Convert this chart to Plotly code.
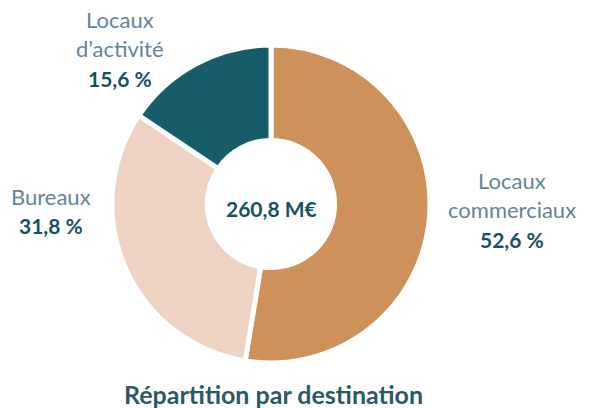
import plotly.graph_objects as go

categories = ["Locaux commerciaux", "Bureaux", "Locaux d'activité"]
values = [52.6, 31.8, 15.6]
colors = ["#CD9159", "#EED2C2", "#165D69"]
pct_labels = ["52,6 %", "31,8 %", "15,6 %"]
name_lines = [["Locaux", "commerciaux"], ["Bureaux"], ["Locaux", "d\u2019activité"]]
total_label = "260,8 M€"
title_text = "Répartition par destination"

W, H = 590, 408
cx, cy, r = 271, 204, 159

fig = go.Figure(go.Pie(
    labels=categories,
    values=values,
    hole=0.40,
    sort=False,
    direction="clockwise",
    rotation=0,
    marker=dict(colors=colors, line=dict(color="white", width=5)),
    textinfo="none",
    hoverinfo="label+percent",
    showlegend=False,
    domain=dict(x=[(cx - r) / W, (cx + r) / W], y=[(H - (cy + r)) / H, (H - (cy - r)) / H]),
))

name_color = "#62859A"
pct_color = "#17535F"
font_reg = "Lato"

# label anchor positions (px): center x, baseline of first line
label_pos = [(512, 187), (51, 203), (120, 26)]
line_gap = 29.5

annotations = []
for (x, yb), names, pct in zip(label_pos, name_lines, pct_labels):
    lines = [(n, False) for n in names] + [(pct, True)]
    for i, (txt, bold) in enumerate(lines):
        y = yb + i * line_gap - 7
        annotations.append(dict(
            x=x / W, y=1 - y / H, xref="paper", yref="paper",
            text=f"<b>{txt}</b>" if bold else txt,
            showarrow=False, xanchor="center", yanchor="middle",
            font=dict(family=font_reg, size=21 if bold else 22, color=pct_color if bold else name_color),
        ))

annotations.append(dict(
    x=cx / W, y=1 - 208 / H, xref="paper", yref="paper",
    text=f"<b>{total_label}</b>", showarrow=False, xanchor="center", yanchor="middle",
    font=dict(family=font_reg, size=21, color=pct_color),
))
annotations.append(dict(
    x=273 / W, y=1 - 394 / H, xref="paper", yref="paper",
    text=f"<b>{title_text}</b>", showarrow=False, xanchor="center", yanchor="middle",
    font=dict(family=font_reg, size=25, color="#2A5965"),
))

fig.update_layout(
    width=W, height=H,
    margin=dict(l=0, r=0, t=0, b=0),
    paper_bgcolor="white", plot_bgcolor="white",
    annotations=annotations,
)

fig.write_html("out.html", config={"displayModeBar": False},
               post_script="document.body.style.margin='0';")
